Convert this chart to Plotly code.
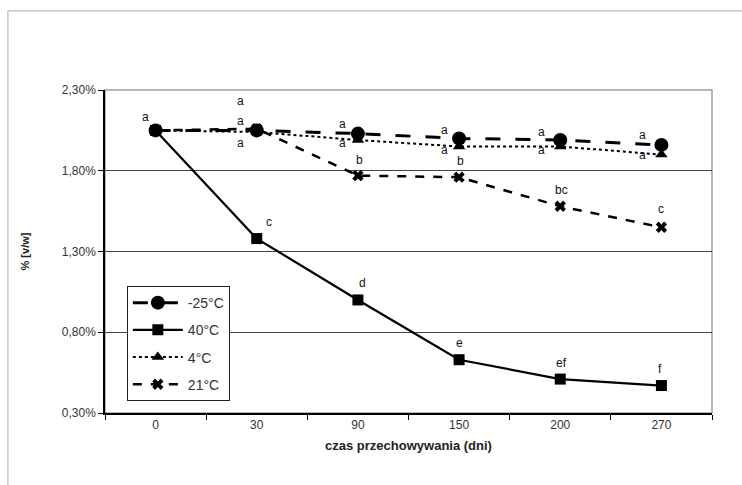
import plotly.graph_objects as go

days = ["0", "30", "90", "150", "200", "270"]
y_ticks = [0.3, 0.8, 1.3, 1.8, 2.3]
y_tick_text = ["0,30%", "0,80%", "1,30%", "1,80%", "2,30%"]

s_m25 = [2.05, 2.05, 2.03, 2.00, 1.99, 1.96]
s_40 = [2.05, 1.38, 1.00, 0.63, 0.51, 0.47]
s_4 = [2.05, 2.04, 1.99, 1.95, 1.95, 1.90]
s_21 = [2.05, 2.06, 1.77, 1.76, 1.58, 1.45]

lab_m25 = ["a", "a", "a", "a", "a", "a"]
lab_40 = ["", "c", "d", "e", "ef", "f"]
lab_4 = ["", "a", "a", "a", "a", "a"]
lab_21 = ["", "a", "b", "b", "bc", "c"]

fig = go.Figure()
FONT = "Liberation Sans, Arial, sans-serif"

fig.add_trace(go.Scatter(x=days, y=s_m25, name="-25°C", mode="lines+markers",
                         line=dict(color="black", width=3, dash="longdash"),
                         marker=dict(symbol="circle", size=14, color="black"),
                         legendgroup="g1"))
fig.add_trace(go.Scatter(x=days, y=s_40, name="40°C", mode="lines+markers",
                         line=dict(color="black", width=2.2),
                         marker=dict(symbol="square", size=11, color="black"),
                         legendgroup="g2"))
fig.add_trace(go.Scatter(x=days, y=s_4, name="4°C", mode="lines+markers",
                         line=dict(color="black", width=2, dash="dot"),
                         marker=dict(symbol="triangle-up", size=11, color="black"),
                         legendgroup="g3"))
fig.add_trace(go.Scatter(x=days, y=s_21, name="21°C", mode="lines+markers",
                         line=dict(color="black", width=2.5, dash="dash"),
                         marker=dict(symbol="x", size=10, color="black"),
                         legendgroup="g4"))

annots = []
def add_labels(vals, labels, offs):
    for i, (v, t) in enumerate(zip(vals, labels)):
        if not t:
            continue
        dx, dy = offs[i]
        annots.append(dict(x=i, y=v, xref="x", yref="y", text=t, showarrow=False,
                           xshift=dx, yshift=dy,
                           font=dict(family=FONT, size=12, color="#111122")))

add_labels(s_m25, lab_m25, [(-10, 13), (-16, 29), (-15, 10), (-15, 8), (-19, 8), (-19, 10)])
add_labels(s_4, lab_4, [(0, 0), (-16, -11), (-15, -3), (-15, -3), (-19, -3), (-19, 0)])
add_labels(s_21, lab_21, [(0, 0), (-16, 8), (2, 16), (1, 16), (1, 16), (0, 18)])
add_labels(s_40, lab_40, [(0, 0), (12, 17), (5, 17), (0, 17), (1, 16), (-1, 17)])

shapes = [
    dict(type="rect", xref="paper", yref="paper", x0=0, x1=1, y0=0, y1=1,
         line=dict(color="#a0a0a0", width=1.5), layer="below"),
    dict(type="line", xref="paper", yref="paper", x0=-0.16, x1=-0.16, y0=1.245, y1=-0.25,
         line=dict(color="#c8c8c8", width=1.5)),
    dict(type="line", xref="paper", yref="paper", x0=-0.16, x1=1.1, y0=1.245, y1=1.245,
         line=dict(color="#c8c8c8", width=1.5)),
]

fig.update_layout(
    width=742, height=485,
    margin=dict(l=105, r=30, t=90, b=72),
    paper_bgcolor="white", plot_bgcolor="white",
    font=dict(family=FONT, size=12, color="#333"),
    annotations=annots,
    shapes=shapes,
    legend=dict(x=0.036, y=0.393, xanchor="left", yanchor="top",
                bordercolor="#222", borderwidth=1, bgcolor="white",
                font=dict(family=FONT, size=14, color="#333"),
                tracegroupgap=6, traceorder="grouped", itemwidth=50),
    xaxis=dict(type="category", categoryorder="array", categoryarray=days,
               range=[-0.5, 5.5], showline=True, linecolor="black", linewidth=1.5,
               ticks="outside", tickson="boundaries", ticklen=5, tickcolor="black",
               showgrid=False, zeroline=False,
               tickfont=dict(family=FONT, size=12, color="#333"),
               title=dict(text="<b>czas przechowywania (dni)</b>",
                          font=dict(family=FONT, size=13, color="#222"), standoff=10)),
    yaxis=dict(range=[0.3, 2.3], tickvals=y_ticks, ticktext=y_tick_text,
               showline=True, linecolor="black", linewidth=1.5,
               ticks="outside", ticklen=5, tickcolor="black",
               showgrid=True, gridcolor="#444", gridwidth=1, zeroline=False,
               tickfont=dict(family=FONT, size=12, color="#333"),
               title=dict(text="<b>% [v/w]</b>",
                          font=dict(family=FONT, size=11, color="#222"), standoff=30)),
)

fig.write_html("out.html")
